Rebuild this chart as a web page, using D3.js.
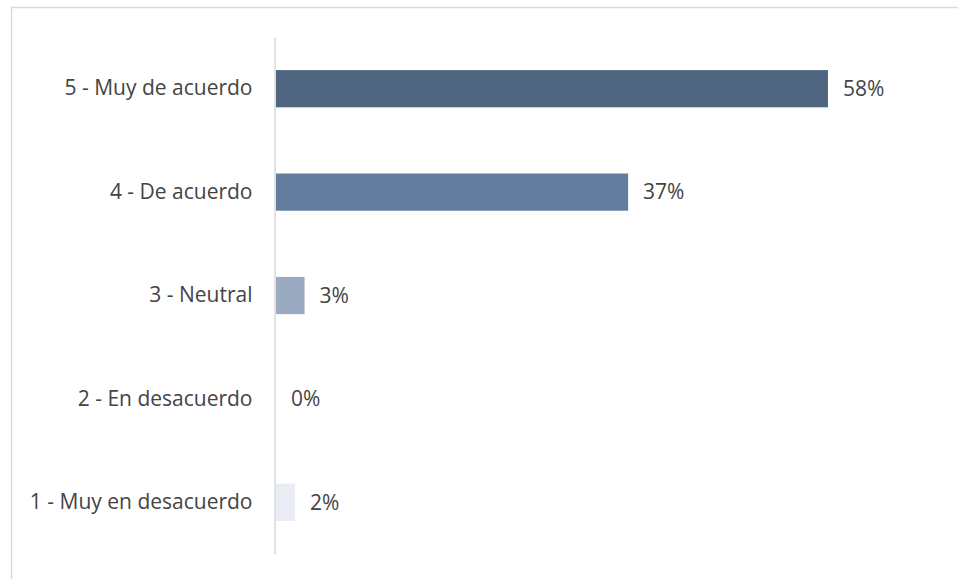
<!DOCTYPE html>
<html>
<head>
<meta charset="utf-8">
<script src="https://cdn.jsdelivr.net/npm/d3@7"></script>
<style>
  html, body { margin: 0; padding: 0; background: #fff; }
  svg { display: block; }
</style>
</head>
<body>
<svg id="chart" width="958" height="579"></svg>
<script>
// Survey responses, top to bottom
const categories = ["5 - Muy de acuerdo", "4 - De acuerdo", "3 - Neutral", "2 - En desacuerdo", "1 - Muy en desacuerdo"];
const values = [58, 37, 3, 0, 2];
const barColors = ["#506580", "#627d9e", "#9aaac0", "#c9d2de", "#e9edf3"];

const svg = d3.select("#chart");
const W = 958, H = 579;
const font = "'Open Sans', Lato, sans-serif";
const fontSize = 21;

// outer frame
svg.append("rect")
  .attr("x", 11.5).attr("y", 7.5)
  .attr("width", W).attr("height", H)
  .attr("fill", "none").attr("stroke", "#d9d9d9").attr("stroke-width", 1.5);

const x0 = 275;
const x = d3.scaleLinear().domain([0, 60]).range([x0, 846]);
const y = d3.scaleBand().domain(categories).range([37, 554]).paddingInner(0.64).paddingOuter(0.32);

// category axis
const yAxis = d3.axisLeft(y).tickSize(0).tickPadding(22);
const gy = svg.append("g").attr("transform", `translate(${x0 - 0.5},0)`).call(yAxis);
gy.select(".domain").attr("stroke", "#d9d9d9").attr("stroke-width", 1.5);
gy.selectAll("text")
  .attr("font-family", font)
  .attr("font-size", fontSize)
  .attr("fill", "#444");

// bars
svg.append("g").selectAll("rect")
  .data(categories)
  .join("rect")
  .attr("x", x(0) + 1)
  .attr("y", d => y(d))
  .attr("width", (d, i) => Math.max(0, x(values[i]) - x(0)))
  .attr("height", y.bandwidth())
  .attr("fill", (d, i) => barColors[i]);

// value labels
svg.append("g").selectAll("text")
  .data(categories)
  .join("text")
  .attr("x", (d, i) => x(values[i]) + 16)
  .attr("y", d => y(d) + y.bandwidth() / 2)
  .attr("dy", "0.35em")
  .attr("font-family", font)
  .attr("font-size", fontSize)
  .attr("fill", "#444")
  .text((d, i) => values[i] + "%");
</script>
</body>
</html>
